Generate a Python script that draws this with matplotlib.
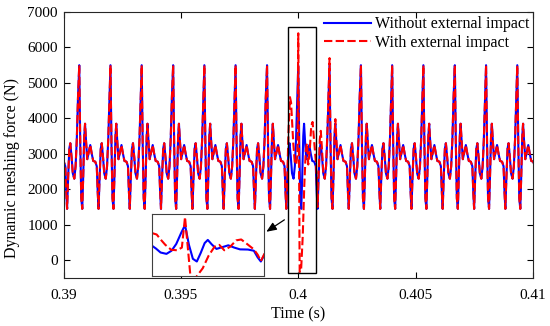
import numpy as np
import matplotlib
matplotlib.use("Agg")
import matplotlib.pyplot as plt
from matplotlib.patches import Rectangle

plt.rcParams['font.family'] = ['Liberation Serif', 'DejaVu Serif']

# ---- data ----
# times of the big mesh-force peaks (s)
peak_times = [0.38933, 0.39067, 0.39200, 0.39333, 0.39467, 0.39600, 0.39733,
              0.39867, 0.40000, 0.40133, 0.40267, 0.40400, 0.40533, 0.40667,
              0.40800, 0.40933, 0.41067]
# one mesh period (offset after a peak in 1e-5 s, force in N)
period_offsets = [0.0, 4.26, 8.52, 12.8, 17.0, 21.3, 24.7, 29.0, 34.1, 40.5,
                  46.9, 53.3, 59.6, 68.2, 74.6, 78.8, 82.2, 86.5, 91.6, 95.9,
                  101.4, 106.5, 112.9, 118.4, 123.5, 128.7]
period_values = [5500, 3300, 1750, 1450, 2400, 3500, 3850, 3350, 2850, 3050,
                 3250, 3000, 2800, 2780, 2650, 1900, 1450, 2300, 3150, 3300,
                 2900, 2450, 2300, 2650, 3400, 4600]

# disturbed segment of the "with external impact" response
impact_t = [0.399489, 0.399531, 0.399583, 0.399646, 0.399693, 0.399744, 0.399787,
            0.399851, 0.399915, 0.399966, 0.400000, 0.400030, 0.400060, 0.400119,
            0.400192, 0.400256, 0.400320, 0.400371, 0.400426, 0.400490, 0.400554,
            0.400609, 0.400660, 0.400746, 0.400788, 0.400822, 0.400865, 0.400916,
            0.400959, 0.401014, 0.401065, 0.401129, 0.401184, 0.401235, 0.401287,
            0.401333, 0.401376, 0.401419, 0.401461, 0.401504, 0.401546, 0.401580,
            0.401623, 0.401674]
impact_f = [1450, 2300, 3600, 4600, 4450, 3800, 3300,
            2750, 2700, 3000, 6400, 3000, -330, -300,
            700, 2100, 3100, 3300, 2700, 3100, 3800,
            3900, 3500, 2800, 2200, 1500, 2400, 3400,
            3650, 3100, 2500, 2300, 2650, 3500, 4700,
            5700, 3300, 1750, 1450, 2400, 3500, 3980,
            3400, 2850]

x_ticks = [0.39, 0.395, 0.40, 0.405, 0.41]
x_labels = ['0.39', '0.395', '0.4', '0.405', '0.41']
y_ticks = [0, 1000, 2000, 3000, 4000, 5000, 6000, 7000]

# ---- build series ----
t_blue, f_blue = [], []
for p in peak_times:
    for o, v in zip(period_offsets, period_values):
        t_blue.append(p + o * 1e-5)
        f_blue.append(v)
t_blue = np.array(t_blue)
f_blue = np.array(f_blue, dtype=float)

before = t_blue < impact_t[0]
after = t_blue > impact_t[-1]
t_red = np.concatenate([t_blue[before], impact_t, t_blue[after]])
f_red = np.concatenate([f_blue[before], impact_f, f_blue[after]])

# ---- figure ----
fig = plt.figure(figsize=(5.5, 3.26), dpi=100)
ax = fig.add_axes([0.1155, 0.1472, 0.8536, 0.816])

lw = 1.5
dash = (0, (4, 1.6))
ax.plot(t_blue, f_blue, color='#0000ff', lw=lw, label='Without external impact')
ax.plot(t_red, f_red, color='#ff0000', lw=lw, linestyle=dash, label='With external impact')

ax.set_xlim(0.39, 0.41)
ax.set_ylim(-500, 7000)
ax.set_xticks(x_ticks)
ax.set_xticklabels(x_labels)
ax.set_yticks(y_ticks)
ax.tick_params(direction='in', top=True, right=True, labelsize=11, length=4, width=0.8)
ax.tick_params(axis='x', pad=8)
ax.tick_params(axis='y', pad=4)
for s in ax.spines.values():
    s.set_linewidth(0.8)
    s.set_color('#262626')
ax.set_xlabel('Time (s)', fontsize=11.5)
ax.set_ylabel('Dynamic meshing force (N)', fontsize=11.5)
ax.xaxis.set_label_coords(0.5, -0.108)
ax.yaxis.set_label_coords(-0.093, 0.415)

leg = ax.legend(loc='upper right', bbox_to_anchor=(1.012, 1.02), frameon=False,
                fontsize=11.5, handlelength=3.0, handletextpad=0.2,
                labelspacing=0.15, borderaxespad=0.2)

# highlighted window
box_t0, box_t1 = 0.39957, 0.40075
box_f0, box_f1 = -364, 6590
ax.add_patch(Rectangle((box_t0, box_f0), box_t1 - box_t0, box_f1 - box_f0,
                       fill=False, edgecolor='black', lw=1.0, zorder=5))

# inset
ins = fig.add_axes([0.277, 0.1534, 0.203, 0.189])
ins.plot(t_blue, f_blue, color='#0000ff', lw=lw)
ins.plot(t_red, f_red, color='#ff0000', lw=lw, linestyle=dash)
ins.set_xlim(0.399646, 0.400856)
ins.set_ylim(-160, 6690)
ins.set_xticks([])
ins.set_yticks([])
for s in ins.spines.values():
    s.set_linewidth(0.8)
    s.set_color('#404040')

ax.annotate('', xy=(264 / 550, 1 - 233.3 / 326), xycoords='figure fraction',
            xytext=(286.7 / 550, 1 - 218.3 / 326), textcoords='figure fraction',
            arrowprops=dict(arrowstyle='-|>,head_length=0.6,head_width=0.25',
                            color='black', lw=0.9))

fig.savefig('out.png', dpi=100)
